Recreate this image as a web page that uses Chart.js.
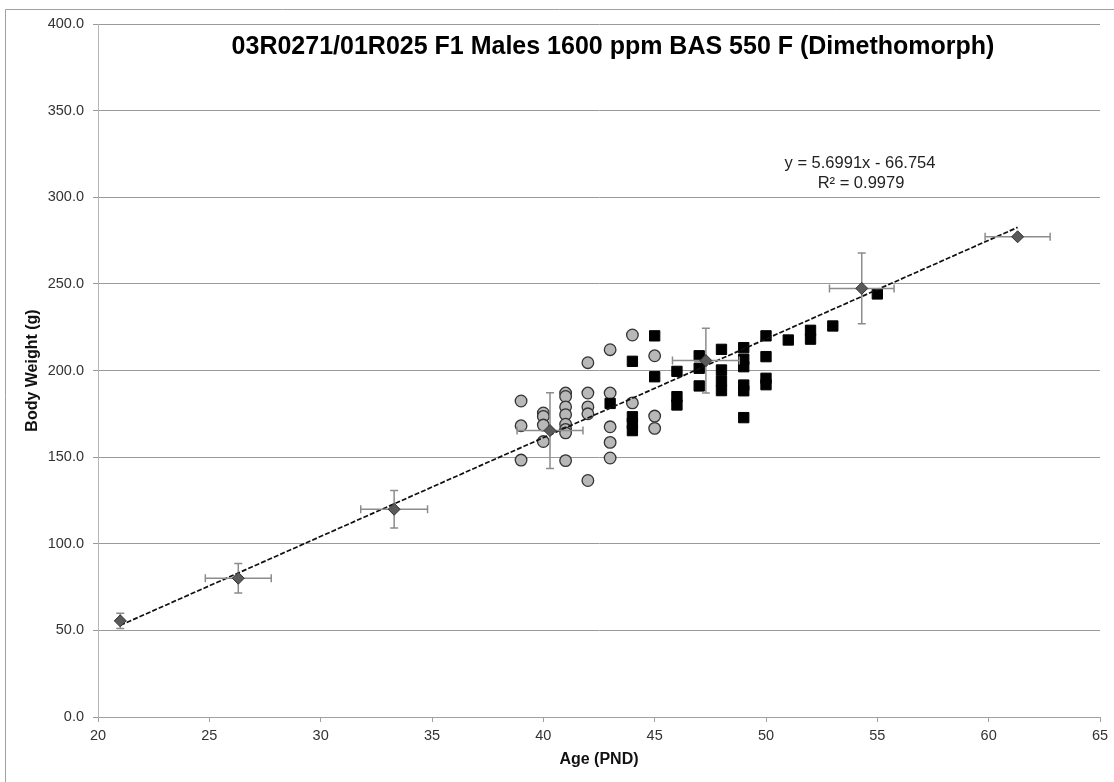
<!DOCTYPE html>
<html>
<head>
<meta charset="utf-8">
<script src="https://cdn.jsdelivr.net/npm/chart.js@4"></script>
<style>
  html, body { margin: 0; padding: 0; background: #fff; }
  #wrap { width: 1114px; height: 782px; }
</style>
</head>
<body>
<div id="wrap"><canvas id="canvas" width="1114" height="782"></canvas></div>
<script>
// group means (diamonds) with error bars
const meanAge = [21.0, 26.3, 33.3, 40.3, 47.3, 54.3, 61.3];
const meanWeight = [55.5, 80.1, 119.9, 165.3, 205.7, 247.4, 277.2];
const ageErr = [0, 1.48, 1.5, 1.48, 1.5, 1.45, 1.46];
const weightErr = [4.4, 8.5, 10.8, 21.8, 18.7, 20.4, 0];

// individual animals, grey circles
const circleAge = [39, 39, 39,
  40, 40, 40, 40,
  41, 41, 41, 41, 41, 41, 41, 41,
  42, 42, 42, 42, 42,
  43, 43, 43, 43, 43,
  44, 44,
  45, 45, 45];
const circleWeight = [182.4, 168.1, 148.3,
  175.5, 173.5, 168.5, 159,
  187, 185, 179, 174.5, 169, 166, 164, 148,
  204.5, 187, 179, 175, 136.5,
  212, 187, 167.5, 158.5, 149.5,
  220.5, 181.3,
  208.5, 173.7, 166.6];

// individual animals, black squares
const squareAge = [43,
  44, 44, 44, 44,
  45, 45,
  46, 46, 46,
  47, 47, 47,
  48, 48, 48, 48,
  49, 49, 49, 49, 49, 49,
  50, 50, 50, 50,
  51, 52, 52, 53, 55];
const squareWeight = [181,
  205.3, 173.3, 169.5, 165.3,
  220, 196.4,
  199.5, 184.9, 180.1,
  208.5, 201.3, 191.1,
  212.2, 200.3, 194, 188.4,
  213.2, 206.5, 202.2, 191.6, 188.3, 172.8,
  220, 208, 195.5, 191.8,
  217.6, 223.2, 218.1, 225.7, 244.2];

// linear trendline as printed on the chart
const slope = 5.6991;
const intercept = -66.754;
const trendAge = [21, 61.3];

const FONT = "'Liberation Sans', Arial, sans-serif";

const pairs = (xs, ys) => xs.map((x, i) => ({ x: x, y: ys[i] }));

const errorBars = {
  id: "errorBars",
  beforeDatasetDraw(chart, args) {
    if (args.index !== 0) return;
    const { ctx, scales } = chart;
    const xs = scales.x, ys = scales.y;
    ctx.save();
    ctx.strokeStyle = "#8c8c8c";
    ctx.lineWidth = 1.5;
    const cap = 4;
    meanAge.forEach((a, i) => {
      const px = xs.getPixelForValue(a);
      const py = ys.getPixelForValue(meanWeight[i]);
      ctx.beginPath();
      if (weightErr[i] > 0) {
        const t = ys.getPixelForValue(meanWeight[i] + weightErr[i]);
        const b = ys.getPixelForValue(meanWeight[i] - weightErr[i]);
        ctx.moveTo(px, t); ctx.lineTo(px, b);
        ctx.moveTo(px - cap, t); ctx.lineTo(px + cap, t);
        ctx.moveTo(px - cap, b); ctx.lineTo(px + cap, b);
      }
      if (ageErr[i] > 0) {
        const l = xs.getPixelForValue(a - ageErr[i]);
        const r = xs.getPixelForValue(a + ageErr[i]);
        ctx.moveTo(l, py); ctx.lineTo(r, py);
        ctx.moveTo(l, py - cap); ctx.lineTo(l, py + cap);
        ctx.moveTo(r, py - cap); ctx.lineTo(r, py + cap);
      }
      ctx.stroke();
    });
    ctx.restore();
  }
};

const decor = {
  id: "decor",
  beforeDraw(chart) {
    const ctx = chart.ctx;
    ctx.save();
    ctx.fillStyle = "#fff";
    ctx.fillRect(0, 0, chart.width, chart.height);
    ctx.strokeStyle = "#a0a0a0";
    ctx.lineWidth = 1;
    ctx.beginPath();
    ctx.moveTo(5.5, chart.height);
    ctx.lineTo(5.5, 9.5);
    ctx.lineTo(chart.width, 9.5);
    ctx.stroke();
    ctx.restore();
  },
  afterDraw(chart) {
    const ctx = chart.ctx;
    ctx.save();
    ctx.fillStyle = "#000";
    ctx.textAlign = "center";
    ctx.textBaseline = "middle";
    ctx.font = "bold 25px " + FONT;
    ctx.fillText("03R0271/01R025 F1 Males 1600 ppm BAS 550 F (Dimethomorph)", 613, 47);
    ctx.fillStyle = "#222";
    ctx.font = "16.5px " + FONT;
    ctx.fillText("y = 5.6991x - 66.754", 860, 163);
    ctx.fillText("R² = 0.9979", 861, 183);
    ctx.restore();
  }
};

const ctx = document.getElementById("canvas").getContext("2d");

const chart = new Chart(ctx, {
  type: "scatter",
  data: {
    datasets: [
      {
        label: "Mean",
        data: pairs(meanAge, meanWeight),
        pointStyle: "rectRot",
        pointRadius: 6,
        backgroundColor: "#5a5a5a",
        borderColor: "#333",
        borderWidth: 1,
      },
      {
        label: "Trend",
        type: "line",
        data: trendAge.map((a) => ({ x: a, y: slope * a + intercept })),
        borderColor: "#111",
        borderWidth: 1.7,
        borderDash: [5, 2],
        pointRadius: 0,
        fill: false,
      },
      {
        label: "Squares",
        data: pairs(squareAge, squareWeight),
        pointStyle: "rect",
        pointRadius: 7.3,
        backgroundColor: "#000",
        borderColor: "#000",
        borderWidth: 1,
      },
      {
        label: "Circles",
        data: pairs(circleAge, circleWeight),
        pointStyle: "circle",
        pointRadius: 5.8,
        backgroundColor: "#b8b8b8",
        borderColor: "#333",
        borderWidth: 1.3,
      },
    ],
  },
  options: {
    responsive: false,
    animation: false,
    layout: { padding: { left: 10, right: 14, top: 24, bottom: 10 } },
    plugins: {
      legend: { display: false },
      tooltip: { enabled: false },
    },
    scales: {
      x: {
        type: "linear",
        min: 20,
        max: 65,
        ticks: {
          stepSize: 5,
          padding: 5,
          color: "#333",
          font: { family: FONT, size: 14.5 },
        },
        grid: { drawOnChartArea: false, drawTicks: true, tickLength: 5, color: "#a0a0a0" },
        border: { color: "#a0a0a0" },
        title: {
          display: true,
          text: "Age (PND)",
          color: "#111",
          font: { family: FONT, size: 16, weight: "bold" },
          padding: { top: 0, bottom: 3 },
        },
        afterFit: (s) => { s.height = 55; },
      },
      y: {
        min: 0,
        max: 400,
        ticks: {
          stepSize: 50,
          padding: 9,
          color: "#333",
          font: { family: FONT, size: 14.5 },
          callback: (v) => v.toFixed(1),
        },
        grid: { color: "#9a9a9a", tickLength: 5 },
        border: { color: "#b4b4b4" },
        title: {
          display: true,
          text: "Body Weight (g)",
          color: "#111",
          font: { family: FONT, size: 16, weight: "bold" },
          padding: { top: 13, bottom: 0 },
        },
        afterFit: (s) => { s.width = 88; },
      },
    },
  },
  plugins: [decor, errorBars],
});
</script>
</body>
</html>
